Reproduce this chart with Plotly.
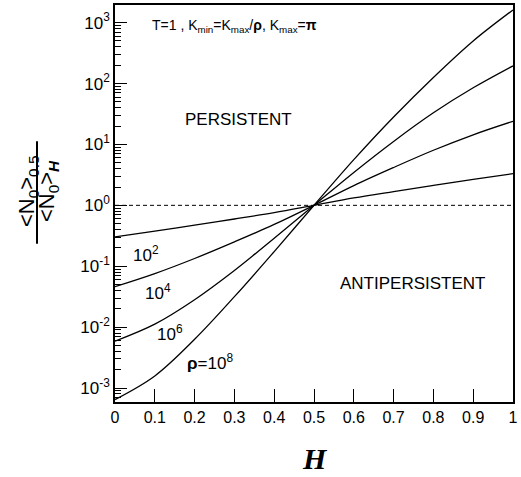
import plotly.graph_objects as go

H = [0.0, 0.1, 0.2, 0.3, 0.4, 0.5, 0.6, 0.7, 0.8, 0.9, 1.0]
rho_1e2 = [0.303, 0.378, 0.472, 0.596, 0.759, 1.0, 1.32, 1.68, 2.12, 2.66, 3.31]
rho_1e4 = [0.0462, 0.0757, 0.134, 0.251, 0.485, 1.0, 2.11, 4.18, 8.02, 14.4, 24.0]
rho_1e6 = [0.00589, 0.0112, 0.0282, 0.0851, 0.288, 1.0, 3.47, 11.2, 33.1, 85.1, 195]
rho_1e8 = [0.000646, 0.00158, 0.00631, 0.0316, 0.174, 1.0, 5.62, 28.2, 126, 501, 1620]
ref_x = [0.0, 1.0]
ref_y = [1.0, 1.0]

x_ticks = [0, 0.1, 0.2, 0.3, 0.4, 0.5, 0.6, 0.7, 0.8, 0.9, 1]
x_ticktext = ["0", "0.1", "0.2", "0.3", "0.4", "0.5", "0.6", "0.7", "0.8", "0.9", "1"]
y_exps = [-3, -2, -1, 0, 1, 2, 3]

FONT = "Liberation Sans, Arial, sans-serif"
L, R, T, B = 115, 8, 3, 75
PW, PH = 521 - L - R, 477 - T - B


def px(xp):
    return (xp - L) / PW


def py(yp):
    return (477 - B - yp) / PH


fig = go.Figure()
for ys in [rho_1e2, rho_1e4, rho_1e6, rho_1e8]:
    fig.add_trace(go.Scatter(x=H, y=ys, mode="lines", line=dict(color="black", width=1.3, shape="spline"),
                             showlegend=False, hoverinfo="skip"))
fig.add_trace(go.Scatter(x=ref_x, y=ref_y, mode="lines", line=dict(color="black", width=1, dash="4px,3px"),
                         showlegend=False, hoverinfo="skip"))

minor_vals = [m * 10 ** e for e in range(-4, 4) for m in range(2, 10)]

fig.update_layout(
    width=521, height=477,
    margin=dict(l=L, r=R, t=T, b=B),
    paper_bgcolor="white", plot_bgcolor="white",
    font=dict(family=FONT, color="black"),
    xaxis=dict(range=[0, 1], tickvals=x_ticks, ticktext=x_ticktext, ticks="inside", ticklen=13,
               tickwidth=1, tickcolor="black", showline=True, linecolor="black", linewidth=1.5,
               mirror=True, showgrid=False, zeroline=False, tickfont=dict(size=16, family=FONT),
               ticklabeloverflow="allow"),
    yaxis=dict(type="log", range=[-3.23, 3.29], tickvals=[10 ** e for e in y_exps],
               ticktext=["10<sup>%d</sup>" % e for e in y_exps], ticks="inside", ticklen=12,
               tickwidth=1, tickcolor="black", showline=True, linecolor="black", linewidth=1.5,
               mirror=True, showgrid=False, zeroline=False, tickfont=dict(size=17, family=FONT),
               minor=dict(tickmode="array", tickvals=minor_vals, ticks="inside", ticklen=6,
                          tickwidth=1, tickcolor="black", showgrid=False)),
)


def label(xc, yc, text, size, **kw):
    d = dict(x=px(xc), y=py(yc), xref="paper", yref="paper", xanchor="center", yanchor="middle",
             text=text, showarrow=False, font=dict(size=size))
    d.update(kw)
    return d


ann = [
    label(315, 459, "<b><i>H</i></b>", 30, font=dict(family="Liberation Serif, Times New Roman, serif", size=30)),
    label(150, 24, "T=1 , K<sub>min</sub>=K<sub>max</sub>/<b>ρ</b>, K<sub>max</sub>=<b>π</b>", 14, xanchor="left"),
    label(238, 118, "PERSISTENT", 17),
    label(412, 283, "ANTIPERSISTENT", 17),
    label(146, 253, "10<sup>2</sup>", 17),
    label(158, 291, "10<sup>4</sup>", 17),
    label(170, 333, "10<sup>6</sup>", 17),
    label(210, 362, "<b>ρ</b>=10<sup>8</sup>", 17),
    label(28, 190, "&lt;N<sub>0</sub>&gt;<sub>0.5</sub>", 22, textangle=-90),
    label(48, 190, "&lt;N<sub>0</sub>&gt;<sub><b><i>H</i></b></sub>", 22, textangle=-90),
]
fig.update_layout(annotations=ann)
fig.add_shape(type="line", xref="paper", yref="paper", x0=px(37), x1=px(37), y0=py(140), y1=py(243),
              line=dict(color="black", width=2))

fig.write_html("out.html", config={"displayModeBar": False},
               post_script="document.body.style.margin='0';document.body.style.padding='0';")
